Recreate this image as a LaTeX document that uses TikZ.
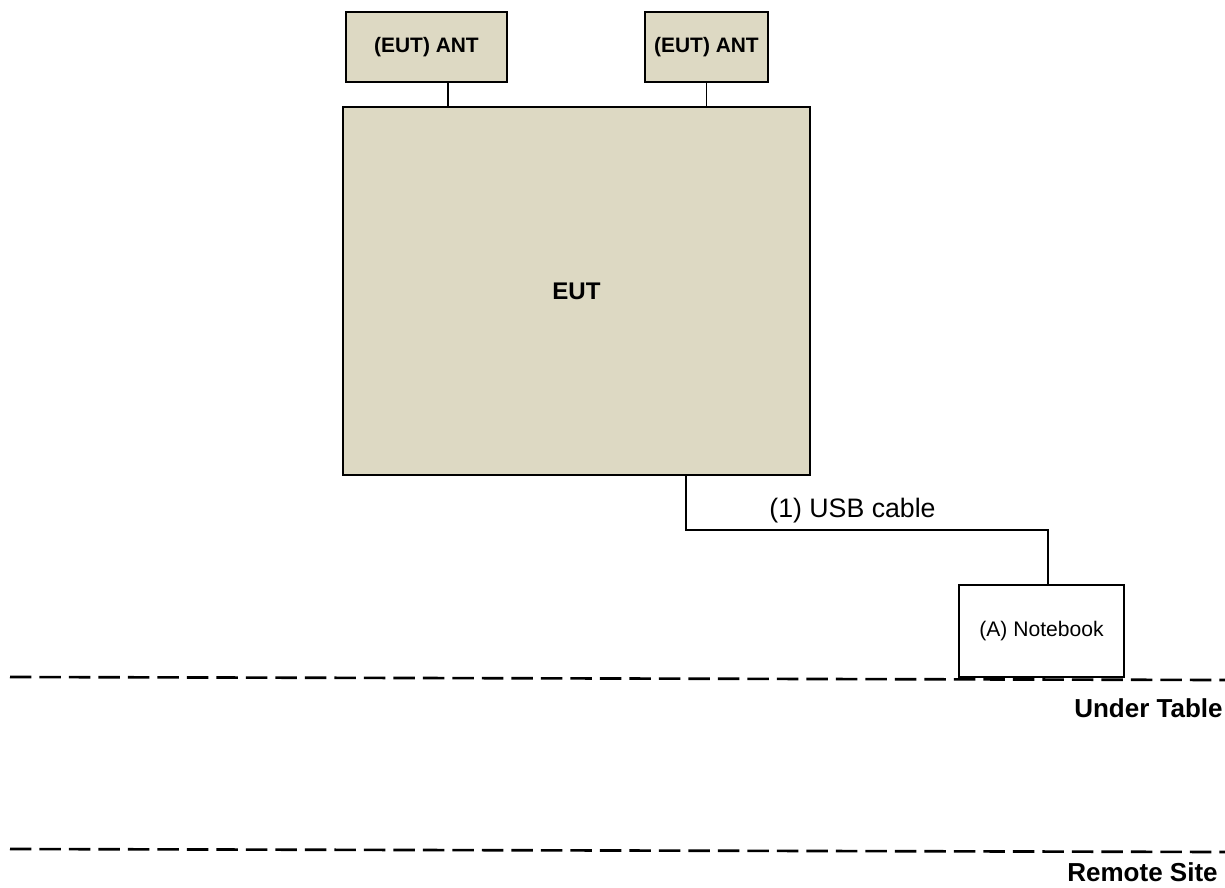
\documentclass[tikz,border=0pt]{standalone}
\usepackage{fontspec}
\setmainfont{Liberation Sans}
\definecolor{euttan}{HTML}{DDD9C3}
\tikzset{
  unit/.style={draw,line width=1.1pt,fill=euttan,inner sep=0pt,font=\bfseries},
  cable/.style={line width=1.1pt},
  level/.style={line width=1.5pt,dash pattern=on 0.43cm off 0.16cm},
  sitelabel/.style={anchor=east,inner sep=0pt,font=\fontsize{14.8}{17}\bfseries\selectfont}
}
\begin{document}
\begin{tikzpicture}[x=0.02cm,y=-0.02cm]
  \useasboundingbox (0,0) rectangle (1225,887);
  \node[unit,minimum width=3.22cm,minimum height=1.4cm,font=\fontsize{11.9}{14}\bfseries\selectfont] (ant1) at (426.5,47) {(EUT) ANT};
  \node[unit,minimum width=2.46cm,minimum height=1.4cm,font=\fontsize{11.9}{14}\bfseries\selectfont] (ant2) at (706.5,47) {(EUT) ANT};
  \node[unit,minimum width=9.34cm,minimum height=7.36cm,font=\fontsize{13.7}{16}\bfseries\selectfont] (eut) at (576.5,291) {EUT};
  \node[draw,line width=1.1pt,fill=white,inner sep=0pt,minimum width=3.3cm,minimum height=1.84cm,font=\fontsize{12}{14}\selectfont] (nb) at (1041.5,631) {(A) Notebook};
  \draw[cable] ([xshift=0.43cm]ant1.south) -- ([xshift=0.43cm]ant1.south |- eut.north);
  \draw[cable] (ant2.south) -- (ant2.south |- eut.north);
  \coordinate (bend) at (1048,530);
  \draw[cable] ([xshift=2.19cm]eut.south) |- (bend)
    node[pos=0.73,above,font=\fontsize{15.2}{18}\selectfont] (usb) {(1) USB cable}
    -- (bend |- nb.north);
  \draw[level] (10,677) -- (1225,680);
  \draw[level] (10,849) -- (1225,852);
  \node[sitelabel] (under) at (1223,708) {Under Table};
  \node[sitelabel] (remote) at (1218,872) {Remote Site};
\end{tikzpicture}
\end{document}
